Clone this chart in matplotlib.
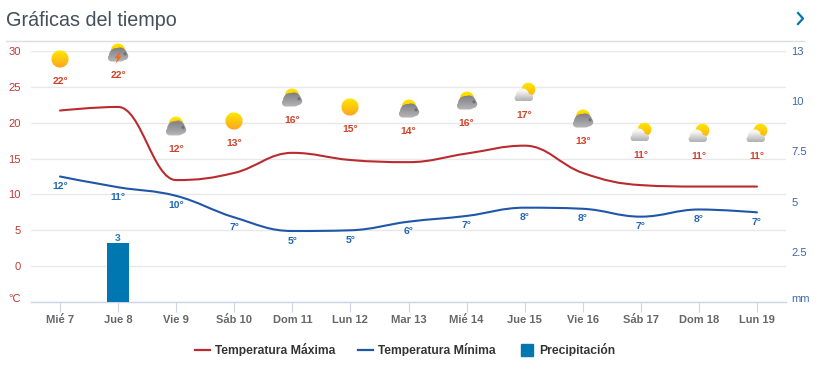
import numpy as np
import matplotlib
matplotlib.use('Agg')
import matplotlib.pyplot as plt
from matplotlib.colors import to_rgb
from matplotlib.lines import Line2D
from matplotlib.path import Path
from matplotlib.patches import PathPatch
from matplotlib.offsetbox import OffsetImage, AnnotationBbox
from matplotlib.transforms import ScaledTranslation

plt.rcParams['font.family'] = ['Liberation Sans', 'DejaVu Sans']
plt.rcParams['text.hinting'] = 'no_autohint'

days = ['Mié 7', 'Jue 8', 'Vie 9', 'Sáb 10', 'Dom 11', 'Lun 12', 'Mar 13',
        'Mié 14', 'Jue 15', 'Vie 16', 'Sáb 17', 'Dom 18', 'Lun 19']
temp_max = [21.7, 22.2, 12.0, 13.0, 15.8, 14.8, 14.5, 15.7, 16.8, 13.0, 11.3, 11.1, 11.1]
temp_min = [12.5, 11.0, 9.8, 6.8, 4.9, 5.0, 6.2, 7.0, 8.15, 8.0, 6.9, 7.9, 7.5]
precip = [0, 2.95, 0, 0, 0, 0, 0, 0, 0, 0, 0, 0, 0]
precip_labels = ['', '3', '', '', '', '', '', '', '', '', '', '', '']
max_labels = [22, 22, 12, 13, 16, 15, 14, 16, 17, 13, 11, 11, 11]
min_labels = [12, 11, 10, 7, 5, 5, 6, 7, 8, 8, 7, 8, 7]
icon_kind = ['sun', 'storm', 'gray', 'sun', 'gray', 'sun', 'gray', 'gray',
             'white', 'gray', 'white', 'white', 'white']
icon_pos = [28.9, 29.7, 19.4, 20.3, 23.4, 22.2, 21.9, 23.05, 24.2, 20.5, 18.6, 18.45, 18.45]
left_ticks = [-5, 0, 5, 10, 15, 20, 25, 30]
left_labels = ['°C', '0', '5', '10', '15', '20', '25', '30']
right_ticks = [0, 2.5, 5, 7.5, 10, 12.5]
right_labels = ['mm', '2.5', '5', '7.5', '10', '13']
legend_names = ['Temperatura Máxima', 'Temperatura Mínima', 'Precipitación']

RED = '#b92b2f'
BLUE = '#1f56a8'
BAR = '#0077b0'
W, H = 833, 373


def spline_path(xs, ys):
    # same control points as a highcharts spline
    verts = [(xs[0], ys[0])]
    codes = [Path.MOVETO]
    s, d = 1.5, 2.5
    n = len(xs)
    prev_r = (xs[0], ys[0])
    for i in range(1, n):
        x, y = xs[i], ys[i]
        if i < n - 1:
            lx = (s * x + xs[i - 1]) / d
            ly = (s * y + ys[i - 1]) / d
            rx = (s * x + xs[i + 1]) / d
            ry = (s * y + ys[i + 1]) / d
            corr = (ry - ly) * (rx - x) / (rx - lx) + y - ry
            ly += corr
            ry += corr
            if ly > max(ys[i - 1], y):
                ly = max(ys[i - 1], y)
                ry = 2 * y - ly
            elif ly < min(ys[i - 1], y):
                ly = min(ys[i - 1], y)
                ry = 2 * y - ly
            if ry > max(y, ys[i + 1]):
                ry = max(y, ys[i + 1])
                ly = 2 * y - ry
            elif ry < min(y, ys[i + 1]):
                ry = min(y, ys[i + 1])
                ly = 2 * y - ry
        else:
            lx, ly, rx, ry = x, y, x, y
        verts += [prev_r, (lx, ly), (x, y)]
        codes += [Path.CURVE4] * 3
        prev_r = (rx, ry)
    return Path(verts, codes)


def make_icon(kind):
    # small weather icon, drawn oversampled then reduced
    size, ss = 28, 4
    g = (np.arange(size * ss) + 0.5) / ss - size / 2
    xx, yy = np.meshgrid(g, g)
    img = np.zeros((size * ss, size * ss, 4))

    def disc(cx, cy, r):
        return (xx - cx) ** 2 + (yy - cy) ** 2 <= r ** 2

    def paint(mask, top, bottom, y0, y1):
        t = np.clip((yy - y0) / (y1 - y0), 0, 1)[..., None]
        col = np.array(to_rgb(top)) * (1 - t) + np.array(to_rgb(bottom)) * t
        img[mask, :3] = col[mask]
        img[mask, 3] = 1

    if kind == 'sun':
        paint(disc(0, 0, 8.6), '#ffe600', '#fda71e', -8, 8)
    elif kind in ('gray', 'storm'):
        paint(disc(0, -2.5, 7), '#ffe600', '#ffc000', -9, 0)
        cloud = disc(-1.5, 2.5, 7.5) | disc(2, 1.5, 7) | disc(6, 3, 4.2) | disc(-6.5, 4.8, 3.6)
        cloud &= yy < 8.5
        paint(cloud, '#7f7f85', '#b8b8ba', -5, 9)
        paint(disc(7, 0.8, 1.6), '#6f6f75', '#6f6f75', -4, 9)
        if kind == 'storm':
            bolt = Path([(1.5, -0.5), (-3.5, 5), (-0.5, 5), (-2.5, 11), (3.5, 3.5), (0.5, 3.5), (3, -0.5)])
            inside = bolt.contains_points(np.c_[xx.ravel(), yy.ravel()]).reshape(xx.shape)
            paint(inside, '#f26a1b', '#f26a1b', 0, 1)
    else:
        paint(disc(3.5, -3.5, 6.8), '#ffe600', '#ffb30a', -10, 3)
        cloud = disc(-2.5, 1.8, 6.4) | disc(-7, 5, 3.4) | disc(4.5, 4.6, 3.6) | disc(0, 4, 4.5)
        cloud &= yy < 8
        paint(cloud, '#f6f6f6', '#aeaeae', -2, 8)

    # average premultiplied colour so the edges stay clean
    small = np.zeros((size, size, 4))
    alpha = img[..., 3].reshape(size, ss, size, ss).mean(axis=(1, 3))
    for c in range(3):
        tot = (img[..., c] * img[..., 3]).reshape(size, ss, size, ss).mean(axis=(1, 3))
        small[..., c] = np.divide(tot, alpha, out=np.ones_like(tot), where=alpha > 0)
    small[..., 3] = alpha
    return small


fig = plt.figure(figsize=(W / 100, H / 100), dpi=100)
ax = fig.add_axes([31 / W, 1 - 302 / H, 755 / W, 251 / H])
ax2 = ax.twinx()
x = np.arange(len(days))

ax.set_xlim(-0.5, 12.5)
ax.set_ylim(-5, 30)
ax2.set_ylim(0, 12.5)

ax.set_yticks(left_ticks, left_labels)
ax.set_xticks(x, days)
ax.grid(axis='y', color='#e8e8e8', lw=1)
ax.set_axisbelow(True)
for sp in ['top', 'left', 'right']:
    ax.spines[sp].set_visible(False)
    ax2.spines[sp].set_visible(False)
ax2.spines['bottom'].set_visible(False)
ax.spines['bottom'].set_color('#ccd6eb')
ax.spines['bottom'].set_linewidth(1)
ax.tick_params(axis='x', length=7.2, width=0.8, color='#ccd6eb', pad=8,
               labelsize=8, labelcolor='#666666')
for lab in ax.get_xticklabels():
    lab.set_fontweight('bold')
    lab.set_verticalalignment('baseline')
ax.tick_params(axis='y', length=0, pad=7.5, labelsize=8, labelcolor='#c23a36')
ax2.set_yticks(right_ticks, right_labels)
ax2.tick_params(axis='y', length=0, pad=4, labelsize=8, labelcolor='#3f68ad')
# the unit labels sit a little above the axis line
up = ScaledTranslation(0, 4 / 100, fig.dpi_scale_trans)
for lab in [ax.get_yticklabels()[0], ax2.get_yticklabels()[0]]:
    lab.set_transform(lab.get_transform() + up)

ax2.bar(x, precip, width=0.38, color=BAR, zorder=2)
for i, (v, t) in enumerate(zip(precip, precip_labels)):
    if t:
        ax2.annotate(t, (i, v), xytext=(0, 4), textcoords='offset pixels', ha='center', va='center',
                     fontsize=7.5, fontweight='bold', color='#2b7cb3')

ax.add_patch(PathPatch(spline_path(x, temp_max), fill=False, edgecolor=RED, lw=1.5, capstyle='round', zorder=3))
ax.add_patch(PathPatch(spline_path(x, temp_min), fill=False, edgecolor=BLUE, lw=1.5, capstyle='round', zorder=3))

for i in x:
    ab = AnnotationBbox(OffsetImage(make_icon(icon_kind[i]), zoom=1, dpi_cor=False), (i, icon_pos[i]),
                        frameon=False, pad=0, annotation_clip=False, zorder=4)
    ax.add_artist(ab)
    ax.annotate(f'{max_labels[i]}°', (i, icon_pos[i]), xytext=(0, -22.5), textcoords='offset pixels',
                ha='center', va='center', fontsize=7.5, fontweight='bold', color='#d0432b', zorder=5)
    ax.annotate(f'{min_labels[i]}°', (i, temp_min[i]), xytext=(0, -10), textcoords='offset pixels',
                ha='center', va='center', fontsize=7.5, fontweight='bold', color='#2468b4', zorder=5)

handles = [Line2D([], [], color=RED, lw=1.6),
           Line2D([], [], color=BLUE, lw=1.6),
           Line2D([], [], color=BAR, ls='none', marker='s', ms=8.8)]
leg = fig.legend(handles, legend_names, ncol=3, loc='center', bbox_to_anchor=(405 / W, 1 - 349.5 / H),
                 frameon=False, prop={'size': 8.7, 'weight': 'bold'}, labelcolor='#333333',
                 handlelength=1.25, handletextpad=0.42, columnspacing=1.9)

fig.text(6 / W, 1 - 20 / H, 'Gráficas del tiempo', fontsize=14.3, color='#444f5a', va='center', ha='left')
fig.add_artist(Line2D([6 / W, 804 / W], [1 - 40.5 / H] * 2, color='#dddddd', lw=1))
fig.add_artist(Line2D([798 / W, 803 / W, 798 / W], [1 - 13 / H, 1 - 18.5 / H, 1 - 24 / H],
                      color='#0077b0', lw=1.6))

fig.savefig('out.png', dpi=100)
